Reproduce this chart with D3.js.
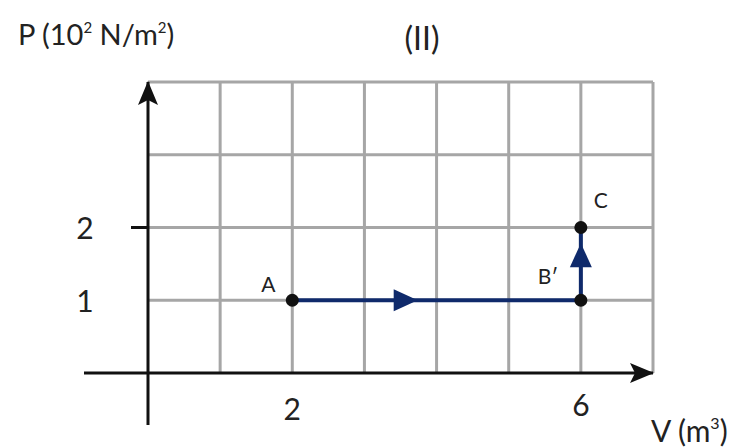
<!DOCTYPE html>
<html>
<head>
<meta charset="utf-8">
<script src="https://cdn.jsdelivr.net/npm/d3@7"></script>
<style>
  body { margin: 0; background: #fff; }
  svg { display: block; font-family: Lato, "Open Sans", sans-serif; }
</style>
</head>
<body>
<svg></svg>
<script>
// chart values
var pointNames = ["A", "B\u2032", "C"];
var pointV = [2, 6, 6];
var pointP = [1, 1, 2];
var xTickValues = [2, 6];
var yTickValues = [1, 2];
var gridV = [1, 2, 3, 4, 5, 6, 7];
var gridP = [1, 2, 3, 4];

var svg = d3.select("svg"),
    width = 742,
    height = 447;

svg.attr("width", width).attr("height", height);

var x = d3.scaleLinear().domain([0, 7]).range([148, 653]);
var y = d3.scaleLinear().domain([0, 4]).range([373, 82]);

var grid = "#a6a6a6", ink = "#111", navy = "#0f2a6b";

var defs = svg.append("defs");
defs.append("marker")
    .attr("id", "axisHead")
    .attr("viewBox", "0 0 24 20")
    .attr("refX", 23).attr("refY", 10)
    .attr("markerWidth", 24).attr("markerHeight", 20)
    .attr("markerUnits", "userSpaceOnUse")
    .attr("orient", "auto")
    .append("path")
    .attr("d", "M0,0 L24,10 L0,20 L5,10 Z")
    .attr("fill", ink);

// grid
svg.append("g").selectAll("line")
    .data(gridV)
    .join("line")
    .attr("x1", d => x(d)).attr("x2", d => x(d))
    .attr("y1", y(0)).attr("y2", y(4))
    .attr("stroke", grid).attr("stroke-width", 3);

svg.append("g").selectAll("line")
    .data(gridP)
    .join("line")
    .attr("x1", x(0)).attr("x2", x(7))
    .attr("y1", d => y(d)).attr("y2", d => y(d))
    .attr("stroke", grid).attr("stroke-width", 3);

// axes
svg.append("line")
    .attr("x1", 84).attr("x2", x(7))
    .attr("y1", y(0)).attr("y2", y(0))
    .attr("stroke", ink).attr("stroke-width", 3)
    .attr("marker-end", "url(#axisHead)");

svg.append("line")
    .attr("x1", x(0)).attr("x2", x(0))
    .attr("y1", 425).attr("y2", y(4))
    .attr("stroke", ink).attr("stroke-width", 3)
    .attr("marker-end", "url(#axisHead)");

// tick at P = 2
svg.append("line")
    .attr("x1", x(0) - 17).attr("x2", x(0))
    .attr("y1", y(2)).attr("y2", y(2))
    .attr("stroke", ink).attr("stroke-width", 3);

// tick labels
svg.append("g").selectAll("text")
    .data(yTickValues)
    .join("text")
    .attr("x", 85).attr("y", d => y(d) + 4)
    .attr("text-anchor", "middle")
    .attr("dominant-baseline", "middle")
    .attr("font-size", 30).attr("fill", "#222")
    .text(d => d);

svg.append("g").selectAll("text")
    .data(xTickValues)
    .join("text")
    .attr("x", d => x(d)).attr("y", d => d == 2 ? 420 : 416)
    .attr("text-anchor", "middle")
    .attr("font-size", 30).attr("fill", "#222")
    .text(d => d);

// axis titles
svg.append("text")
    .attr("x", 18).attr("y", 45)
    .attr("font-size", 29).attr("fill", "#222")
    .html("P (10<tspan font-size='15' dy='-12'>2</tspan><tspan dy='12'> N/m</tspan><tspan font-size='15' dy='-12'>2</tspan><tspan dy='12'>)</tspan>");

svg.append("text")
    .attr("x", 651).attr("y", 442)
    .attr("font-size", 30).attr("fill", "#222")
    .html("V (m<tspan font-size='16' dy='-13'>3</tspan><tspan dy='13'>)</tspan>");

svg.append("text")
    .attr("x", 422).attr("y", 50)
    .attr("text-anchor", "middle")
    .attr("font-size", 32).attr("fill", "#222")
    .text("(II)");

// process path A -> B' -> C
var pts = pointV.map((v, i) => [x(v), y(pointP[i])]);

svg.append("path")
    .attr("d", d3.line()(pts))
    .attr("fill", "none")
    .attr("stroke", navy)
    .attr("stroke-width", 4);

// direction arrows on each segment
function headAt(px, py, angle) {
    svg.append("path")
        .attr("d", "M12,0 L-12,-11 L-12,11 Z")
        .attr("transform", "translate(" + px + "," + py + ") rotate(" + angle + ")")
        .attr("fill", navy);
}
headAt(x(3.6) - 2, y(1), 0);
headAt(x(6), y(1.62), -90);

// points
svg.append("g").selectAll("circle")
    .data(pts)
    .join("circle")
    .attr("cx", d => d[0]).attr("cy", d => d[1])
    .attr("r", 6.5)
    .attr("fill", ink);

// point labels
var labelDx = [-24, -33, 20];
var labelDy = [-8, -16, -20];
svg.append("g").selectAll("text")
    .data(pts)
    .join("text")
    .attr("x", (d, i) => d[0] + labelDx[i])
    .attr("y", (d, i) => d[1] + labelDy[i])
    .attr("text-anchor", "middle")
    .attr("font-size", 21).attr("fill", "#222")
    .text((d, i) => pointNames[i]);
</script>
</body>
</html>
